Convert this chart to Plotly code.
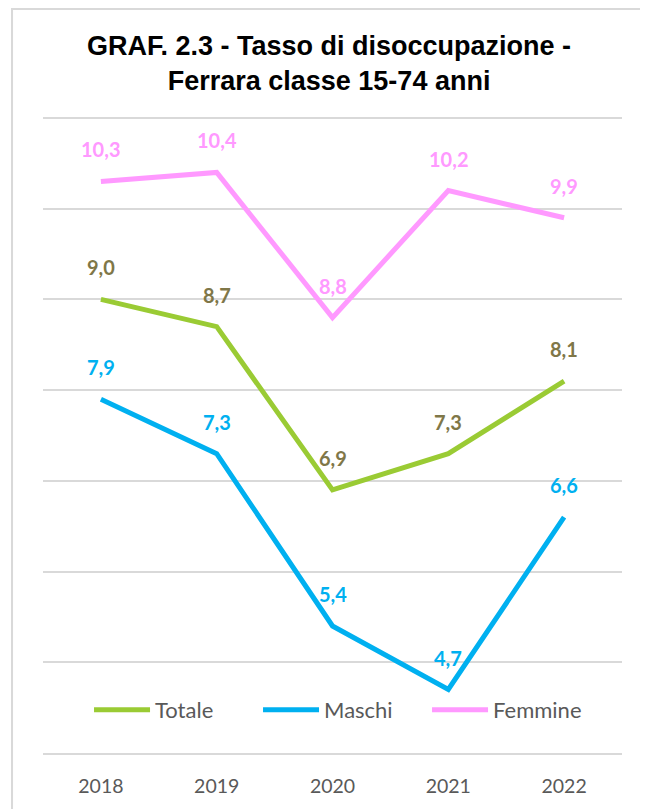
import plotly.graph_objects as go

years = ["2018", "2019", "2020", "2021", "2022"]
totale = [9.0, 8.7, 6.9, 7.3, 8.1]
maschi = [7.9, 7.3, 5.4, 4.7, 6.6]
femmine = [10.3, 10.4, 8.8, 10.2, 9.9]

series = [
    ("Totale", totale, "#9ACB34", "#7F7748"),
    ("Maschi", maschi, "#00B0F0", "#00B0F0"),
    ("Femmine", femmine, "#FF99FF", "#FF99FF"),
]

fig = go.Figure()
annotations = []
for name, vals, col, lblcol in series:
    fig.add_trace(go.Scatter(
        x=years, y=vals, mode="lines", name=name,
        line=dict(color=col, width=5),
        hoverinfo="skip",
    ))
    for i, yv in enumerate(vals):
        annotations.append(dict(
            x=i, y=yv, xref="x", yref="y",
            text=f"{yv:.1f}".replace(".", ","),
            showarrow=False, yshift=32,
            font=dict(family="Lato", size=20, color=lblcol, weight="bold"),
        ))

annotations.append(dict(
    x=0.5, y=1.0, xref="paper", yref="paper", xanchor="center", yanchor="middle",
    yshift=51, xshift=-4,
    text="<b>GRAF. 2.3 - Tasso di disoccupazione -<br>Ferrara classe 15-74 anni</b>",
    showarrow=False,
    font=dict(family="Liberation Sans", size=27, color="#000000"),
))

fig.update_layout(
    width=640, height=801,
    margin=dict(l=35, r=26, t=106, b=56),
    paper_bgcolor="white", plot_bgcolor="white",
    showlegend=True,
    legend=dict(
        orientation="h", x=0.0795, xanchor="left", y=0.0673, yanchor="middle",
        font=dict(family="Lato", size=22, color="#595959"),
        bgcolor="rgba(0,0,0,0)", itemwidth=56, entrywidth=98, traceorder="normal",
    ),
    annotations=annotations,
    shapes=[dict(
        type="rect", xref="paper", yref="paper",
        x0=-0.0535, x1=1.0432, y0=-0.12, y1=1.1643,
        line=dict(color="#D9D9D9", width=2), fillcolor="rgba(0,0,0,0)",
        layer="below",
    )],
)
fig.update_xaxes(
    type="category", categoryorder="array", categoryarray=years, range=[-0.5, 4.5],
    showgrid=False, showline=True, linecolor="#D9D9D9", linewidth=1.5,
    tickfont=dict(family="Lato", size=19.5, color="#595959"),
    ticks="", ticklabelstandoff=15, zeroline=False,
)
fig.update_yaxes(
    range=[4, 11.044], dtick=1, tick0=4, showticklabels=False,
    showgrid=True, gridcolor="#D9D9D9", gridwidth=1.5, zeroline=False, showline=False,
)

fig.write_html("out.html")
